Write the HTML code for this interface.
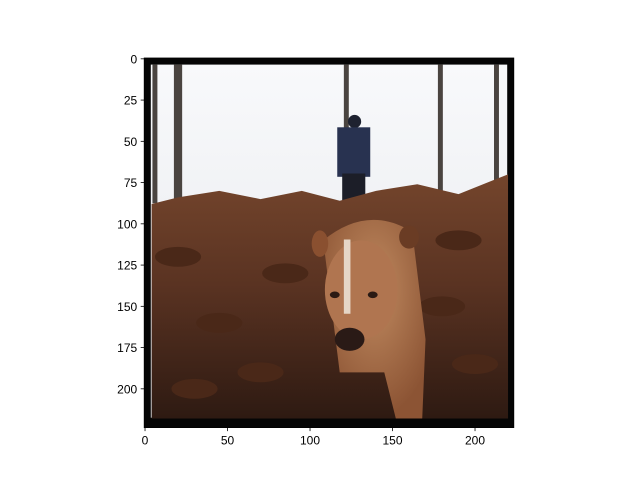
<!DOCTYPE html>
<html><head><meta charset="utf-8"><style>
body{margin:0;background:#fff;width:640px;height:480px;overflow:hidden}
svg{display:block;font-family:"Liberation Sans","DejaVu Sans",sans-serif}
</style></head><body>
<svg id="chart" width="640" height="480">
<defs>
<linearGradient id="sky" x1="0" y1="0" x2="0" y2="1"><stop offset="0" stop-color="#f8f9fb"/><stop offset="1" stop-color="#e6e8ec"/></linearGradient>
<linearGradient id="ground" x1="0" y1="0" x2="0" y2="1"><stop offset="0" stop-color="#74452c"/><stop offset="0.45" stop-color="#5a3322"/><stop offset="1" stop-color="#2e1a12"/></linearGradient>
<radialGradient id="dogg" cx="0.5" cy="0.35" r="0.65"><stop offset="0" stop-color="#c08a60"/><stop offset="1" stop-color="#8c5434"/></radialGradient>
</defs>
<g id="img"></g>
<g id="axes"></g>
</svg>
<script>
const xTicks=[0,50,100,150,200];
const yTicks=[0,25,50,75,100,125,150,175,200];
const imgW=224, imgH=224;
const X0=144.2, Y0=58, S=369.6/224;
const sx=v=>X0+(v+0.5)*S, sy=v=>Y0+(v+0.5)*S;
const NS="http://www.w3.org/2000/svg";
function mk(p,tag,attrs){const e=document.createElementNS(NS,tag);for(const k in attrs)e.setAttribute(k,attrs[k]);p.appendChild(e);return e;}
const img=document.getElementById('img');
const ax=document.getElementById('axes');
const R=(x,y,w,h,f)=>mk(img,'rect',{x:sx(x-0.5),y:sy(y-0.5),width:w*S,height:h*S,fill:f});
const E=(cx,cy,rx,ry,f)=>mk(img,'ellipse',{cx:sx(cx),cy:sy(cy),rx:rx*S,ry:ry*S,fill:f});
R(0,0,224,224,'#050505');
R(4,4,216,214,'url(#sky)');
// trees
[[5,3],[18,5],[121,3],[178,3],[212,3]].forEach(t=>R(t[0],4,t[1],84,'#4a4440'));
// person
E(127,38,4,4,'#1e2230');
R(117,42,20,30,'#283250');
R(120,70,14,22,'#1c1e28');
// ground
mk(img,'path',{d:`M${sx(4)} ${sy(88)} L${sx(20)} ${sy(84)} L${sx(45)} ${sy(80)} L${sx(70)} ${sy(85)} L${sx(95)} ${sy(80)} L${sx(118)} ${sy(86)} L${sx(140)} ${sy(80)} L${sx(165)} ${sy(76)} L${sx(190)} ${sy(82)} L${sx(210)} ${sy(74)} L${sx(220)} ${sy(70)} L${sx(220)} ${sy(218)} L${sx(4)} ${sy(218)} Z`,fill:'url(#ground)'});
// darker fern strokes
[[20,120],[45,160],[70,190],[180,150],[200,185],[30,200],[85,130],[190,110]].forEach(p=>E(p[0],p[1],14,6,'#4a2818'));
// dog body
mk(img,'path',{d:`M${sx(108)} ${sy(110)} Q${sx(135)} ${sy(88)} ${sx(162)} ${sy(105)} L${sx(170)} ${sy(170)} L${sx(168)} ${sy(218)} L${sx(152)} ${sy(218)} L${sx(145)} ${sy(190)} L${sx(118)} ${sy(190)} Z`,fill:'url(#dogg)'});
E(131,140,22,30,'#b07550');
E(106,112,5,8,'#8a5030');
E(160,108,6,7,'#6a3c24');
R(121,110,4,45,'#e6d6c6');
E(124,170,9,7,'#2a1a16');
E(115,143,3,2,'#2a1a14');
E(138,143,3,2,'#2a1a14');
// axes
mk(ax,'rect',{x:X0,y:Y0,width:imgW*S,height:imgH*S,fill:'none',stroke:'#000','stroke-width':0.8});
for(const t of xTicks){
 const l=mk(ax,'line',{x1:sx(t),x2:sx(t),y1:Y0+imgH*S,y2:Y0+imgH*S+3.5,stroke:'#000','stroke-width':0.8});
 
 
 const tx=mk(ax,'text',{x:sx(t),y:Y0+imgH*S+17,'text-anchor':'middle','font-size':12,fill:'#000'});
 tx.textContent=t;
 
 
}
for(const t of yTicks){
 const l=mk(ax,'line',{x1:X0-3.5,x2:X0,y1:sy(t),y2:sy(t),stroke:'#000','stroke-width':0.8});
 
 
 const tx=mk(ax,'text',{x:X0-7,y:sy(t)+4.5,'text-anchor':'end','font-size':12,fill:'#000'});
 tx.textContent=t;
 
 
}
</script>
</body></html>
